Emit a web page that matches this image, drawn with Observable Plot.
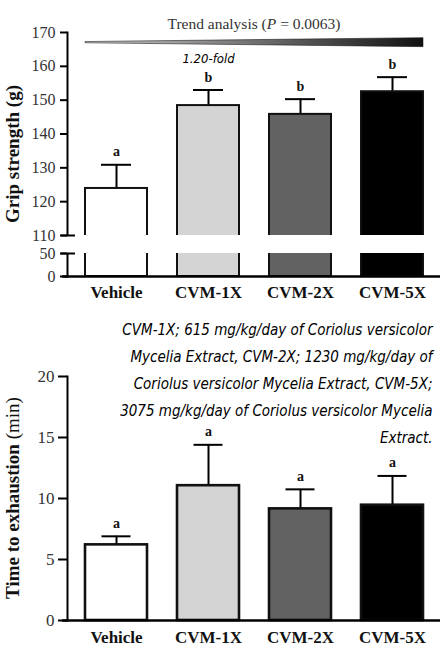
<!DOCTYPE html>
<html>
<head>
<meta charset="utf-8">
<script src="https://cdn.jsdelivr.net/npm/d3@7"></script>
<script src="https://cdn.jsdelivr.net/npm/@observablehq/plot@0.6"></script>
<style>
  body { margin: 0; background: #fff; }
  #chart { width: 440px; }
  #chart svg { display: block; }
</style>
</head>
<body>
<div id="chart"></div>
<script>
// grupos y valores
const groups = ["Vehicle", "CVM-1X", "CVM-2X", "CVM-5X"]
const barColors = ["#ffffff", "#d4d4d4", "#626262", "#000000"]

const gripMean = [123.9, 148.4, 145.8, 152.5]
const gripSem = [7.0, 4.6, 4.5, 4.3]
const gripLetters = ["a", "b", "b", "b"]
const gripTicks = [0, 50, 110, 120, 130, 140, 150, 160, 170]
const gripBreak = [50, 110]

const timeMean = [6.2, 11.05, 9.15, 9.45]
const timeSem = [0.7, 3.35, 1.6, 2.4]
const timeLetters = ["a", "a", "a", "a"]
const timeTicks = [0, 5, 10, 15, 20]

const trendText = ["Trend analysis (", "P", " = 0.0063)"]
const trendLevel = 167
const foldGroup = "CVM-1X"
const foldText = "1.20-fold"
const caption = [
  "CVM-1X; 615 mg/kg/day of Coriolus versicolor",
  "Mycelia Extract, CVM-2X; 1230 mg/kg/day of",
  "Coriolus versicolor Mycelia Extract, CVM-5X;",
  "3075 mg/kg/day of Coriolus versicolor Mycelia",
  "Extract."
]

const serif = "'Liberation Serif', 'Times New Roman', serif"
const hand = "'DejaVu Sans Condensed', 'DejaVu Sans', sans-serif"

// eje cortado: 0-50 comprimido, hueco 50-110, luego 110-170
const brk = d3.scaleLinear().domain([0, 50, 110, 170]).range([0, 23, 41, 244])

const grip = groups.map((g, i) => ({group: g, mean: gripMean[i], upper: gripMean[i] + gripSem[i], letter: gripLetters[i]}))
const time = groups.map((g, i) => ({group: g, mean: timeMean[i], upper: timeMean[i] + timeSem[i], letter: timeLetters[i]}))

const xOpts = {domain: groups, paddingInner: 0.33, paddingOuter: 0.175, label: null}

// titulo del eje y, rotado, con partes en negrita / normal
function yTitle(parts) {
  return (index, scales, values, dims) => {
    const cy = (dims.marginTop + dims.height - dims.marginBottom) / 2
    const t = d3.create("svg:text")
      .attr("transform", `translate(12,${cy}) rotate(-90)`)
      .attr("text-anchor", "middle")
      .attr("dy", "0.35em")
      .attr("font-size", 19)
      .attr("font-family", serif)
      .attr("fill", "#111")
    parts.forEach(p => t.append("tspan").attr("font-weight", p[1]).text(p[0]))
    return t.node()
  }
}

// cuña de tendencia con degradado + texto
function trendMark(index, scales, values, dims) {
  const x = scales.x
  const x0 = x(groups[0])
  const x1 = x(groups[groups.length - 1]) + x.bandwidth()
  const y = scales.y(brk(trendLevel))
  const g = d3.create("svg:g")
  const grad = g.append("defs").append("linearGradient").attr("id", "trend-grad")
  grad.append("stop").attr("offset", "0%").attr("stop-color", "#d0d0d0")
  grad.append("stop").attr("offset", "100%").attr("stop-color", "#111")
  g.append("path")
    .attr("d", `M${x0},${y - 0.6}L${x1},${y - 4.5}L${x1},${y + 4.5}L${x0},${y + 0.6}Z`)
    .attr("fill", "url(#trend-grad)")
    .attr("stroke", "#222")
    .attr("stroke-width", 0.6)
  const t = g.append("text")
    .attr("x", (x0 + x1) / 2)
    .attr("y", y - 13)
    .attr("text-anchor", "middle")
    .attr("font-size", 15.5)
    .attr("font-family", serif)
    .attr("fill", "#333")
  trendText.forEach((s, i) => t.append("tspan").attr("font-style", i === 1 ? "italic" : null).text(s))
  return g.node()
}

const gripChart = Plot.plot({
  width: 440,
  height: 300,
  marginLeft: 67,
  marginRight: 0,
  marginTop: 32,
  marginBottom: 24,
  style: {fontFamily: serif, background: "white", overflow: "visible"},
  x: xOpts,
  y: {transform: brk, domain: [0, brk(170)]},
  color: {domain: groups, range: barColors},
  marks: [
    Plot.frame({anchor: "left", strokeWidth: 2}),
    Plot.ruleX(grip, {x: "group", y1: "mean", y2: "upper", strokeWidth: 2}),
    Plot.tickY(grip, {x: "group", y: "upper", insetLeft: 16, insetRight: 16, strokeWidth: 2}),
    Plot.barY(grip, {x: "group", y1: 0, y2: "mean", fill: "group", stroke: "#111", strokeWidth: 2}),
    // hueco del eje cortado
    Plot.rectY([gripBreak], {y1: d => d[0], y2: d => d[1], fill: "white", insetLeft: -10}),
    Plot.ruleY(gripBreak, {strokeWidth: 2, insetLeft: -6, insetRight: 440 - 67 - 8}),
    Plot.ruleY([0], {strokeWidth: 2.5, insetLeft: -5}),
    // las marcas del eje no pasan por el transform: se les da ya transformadas
    Plot.axisY({ticks: gripTicks.map(brk), tickFormat: v => Math.round(brk.invert(v)), tickSize: 7, tickPadding: 5, label: null, fontSize: 16, fill: "#333", strokeWidth: 2}),
    Plot.axisX({tickSize: 0, tickPadding: 9, label: null, fontWeight: "bold", fontSize: 17, fill: "#111"}),
    Plot.text(grip, {x: "group", y: "upper", text: "letter", dy: -13, fontWeight: "bold", fontSize: 14, fill: "#111"}),
    Plot.text(grip.filter(d => d.group === foldGroup), {x: "group", y: "upper", text: () => foldText, dy: -31, fontFamily: hand, fontStyle: "italic", fontSize: 13}),
    trendMark,
    yTitle([["Grip strength (g)", "bold"]])
  ]
})

const timeChart = Plot.plot({
  width: 440,
  height: 351,
  marginLeft: 67,
  marginRight: 0,
  marginTop: 76,
  marginBottom: 31,
  style: {fontFamily: serif, background: "white", overflow: "visible"},
  x: xOpts,
  y: {domain: [0, 20]},
  color: {domain: groups, range: barColors},
  marks: [
    Plot.frame({anchor: "left", strokeWidth: 2}),
    Plot.ruleX(time, {x: "group", y1: "mean", y2: "upper", strokeWidth: 2}),
    Plot.tickY(time, {x: "group", y: "upper", insetLeft: 16.5, insetRight: 16.5, strokeWidth: 2}),
    Plot.barY(time, {x: "group", y: "mean", fill: "group", stroke: "#111", strokeWidth: 2.6}),
    Plot.ruleY([0], {strokeWidth: 2.5, insetLeft: -5}),
    Plot.axisY({ticks: timeTicks, tickSize: 9, tickPadding: 4, label: null, fontSize: 17, fill: "#333", strokeWidth: 2}),
    Plot.axisX({tickSize: 0, tickPadding: 10, label: null, fontWeight: "bold", fontSize: 17, fill: "#111"}),
    Plot.text(time, {x: "group", y: "upper", text: "letter", dy: -13, fontWeight: "bold", fontSize: 14, fill: "#111"}),
    Plot.text([caption.join("\n")], {frameAnchor: "top-right", text: d => d, textAnchor: "end", lineAnchor: "top", lineHeight: 1.8, dx: -8, dy: -61, fontFamily: hand, fontStyle: "italic", fontSize: 15}),
    yTitle([["Time to exhaustion ", "bold"], ["(min)", "normal"]])
  ]
})

d3.select('#chart').append(() => gripChart)
d3.select('#chart').append(() => timeChart)
</script>
</body>
</html>
